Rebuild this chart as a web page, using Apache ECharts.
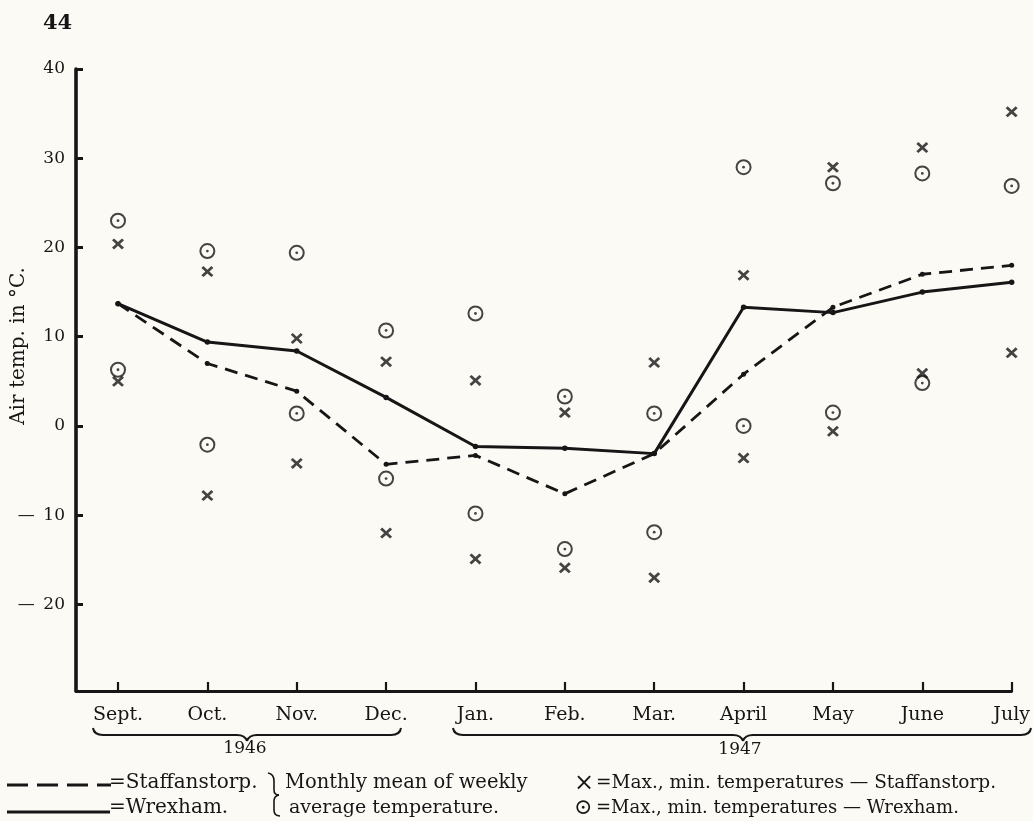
<!DOCTYPE html>
<html>
<head>
<meta charset="utf-8">
<title>Air temperature, Staffanstorp and Wrexham, 1946–1947</title>
<script src="https://cdn.jsdelivr.net/npm/echarts@6/dist/echarts.min.js"></script>
<style>
  html, body { margin: 0; padding: 0; background: #fbfaf5; }
  #chart { width: 1033px; height: 821px; }
</style>
</head>
<body>
<div id="chart"></div>
<script>
// Months along the x axis (Sept. 1946 – July 1947)
const months = ['Sept.', 'Oct.', 'Nov.', 'Dec.', 'Jan.', 'Feb.', 'Mar.', 'April', 'May', 'June', 'July'];

// Monthly mean of weekly average temperature (°C)
const staffanstorpMean = [13.7, 7.0, 3.9, -4.3, -3.3, -7.6, -3.1, 5.8, 13.3, 17.0, 18.0];
const wrexhamMean      = [13.7, 9.4, 8.4, 3.2, -2.3, -2.5, -3.1, 13.3, 12.7, 15.0, 16.1];

// Max. and min. temperatures (°C)
const staffanstorpMax = [20.4, 17.3, 9.8, 7.2, 5.1, 1.5, 7.1, 16.9, 29.0, 31.2, 35.2];
const staffanstorpMin = [5.0, -7.8, -4.2, -12.0, -14.9, -15.9, -17.0, -3.6, -0.6, 5.9, 8.2];
const wrexhamMax      = [23.0, 19.6, 19.4, 10.7, 12.6, 3.3, 1.4, 29.0, 27.2, 28.3, 26.9];
const wrexhamMin      = [6.3, -2.1, 1.4, -5.9, -9.8, -13.8, -11.9, 0.0, 1.5, 4.8, null];

// Y axis tick values
const yTicks = [-20, -10, 0, 10, 20, 30, 40];
const monthIdx = months.map((m, i) => i);

const INK = '#161616';
const SERIF = '"DejaVu Serif", "Liberation Serif", serif';

const pts = arr => arr.map((v, i) => (v === null ? null : [i, v])).filter(p => p);

// "×" mark as a filled outline
const CROSS = 'path://M0,1.7 L1.7,0 L5,3.3 L8.3,0 L10,1.7 L6.7,5 L10,8.3 L8.3,10 L5,6.7 L1.7,10 L0,8.3 L3.3,5 Z';

const chart = echarts.init(document.getElementById('chart'), null, { renderer: 'canvas' });

const crossSeries = (name, data) => ({
  name, type: 'scatter', data: pts(data), symbol: CROSS, symbolSize: [12, 11],
  itemStyle: { color: INK }, z: 4
});
const ringSeries = (name, data) => ({
  name, type: 'scatter', data: pts(data), symbol: 'circle', symbolSize: 14,
  itemStyle: { color: 'rgba(0,0,0,0)', borderColor: INK, borderWidth: 2 }, z: 4
});
const dotSeries = (name, data) => ({
  name, type: 'scatter', data: pts(data), symbol: 'circle', symbolSize: 2.8,
  itemStyle: { color: INK }, z: 5
});

// stroke helpers for the drawn braces
const strokeStyle = w => ({ stroke: INK, lineWidth: w, fill: null });
const seg = (x1, y1, x2, y2, w) => ({ type: 'line', shape: { x1, y1, x2, y2 }, style: strokeStyle(w) });
const curve = (x1, y1, cx, cy, x2, y2, w) => ({
  type: 'bezierCurve', shape: { x1, y1, cpx1: cx, cpy1: cy, x2, y2 }, style: strokeStyle(w)
});
// horizontal brace opening upward, with its point at xm
function hBrace(xa, xb, xm, y) {
  const h = 7, r = 10, w = 2;
  return [
    curve(xa, y - h, xa + 1, y, xa + r, y, w),
    seg(xa + r, y, xm - 10, y, w),
    curve(xm - 10, y, xm - 2, y, xm, y + 6, w),
    curve(xm, y + 6, xm + 2, y, xm + 10, y, w),
    seg(xm + 10, y, xb - r, y, w),
    curve(xb - r, y, xb - 1, y, xb, y - h, w)
  ];
}

const txt = (x, y, text, size, extra) => ({
  type: 'text', x, y,
  style: Object.assign({ text, font: size + 'px ' + SERIF, fill: INK, verticalAlign: 'middle' }, extra || {})
});

chart.setOption({
  backgroundColor: '#fbfaf5',
  animation: false,
  textStyle: { fontFamily: SERIF, color: INK },
  grid: { left: 76, right: 18, top: 69, bottom: 130, containLabel: false },
  xAxis: {
    type: 'value',
    min: -0.47,
    max: 10,
    splitLine: { show: false },
    axisLine: { show: true, onZero: false, lineStyle: { color: INK, width: 2.8 } },
    axisTick: { show: true, inside: true, length: 9, customValues: monthIdx, lineStyle: { color: INK, width: 2.2 } },
    axisLabel: {
      show: true, customValues: monthIdx, margin: 15,
      formatter: v => months[Math.round(v)] || '',
      fontFamily: SERIF, fontSize: 19, color: INK
    }
  },
  yAxis: {
    type: 'value',
    min: -29.7,
    max: 40,
    splitLine: { show: false },
    axisLine: { show: true, onZero: false, lineStyle: { color: INK, width: 3.6 } },
    axisTick: { show: true, inside: true, length: 7, customValues: yTicks, lineStyle: { color: INK, width: 3 } },
    axisLabel: {
      show: true, customValues: yTicks, margin: 11,
      formatter: v => (v < 0 ? '—\u2002' + (-v) : String(v)),
      fontFamily: SERIF, fontSize: 17, color: INK
    }
  },
  series: [
    {
      name: 'Staffanstorp mean', type: 'line', data: pts(staffanstorpMean),
      symbol: 'circle', symbolSize: 5, itemStyle: { color: INK },
      lineStyle: { color: INK, width: 2.8, type: [13, 8] }, z: 3
    },
    {
      name: 'Wrexham mean', type: 'line', data: pts(wrexhamMean),
      symbol: 'circle', symbolSize: 5.5, itemStyle: { color: INK },
      lineStyle: { color: INK, width: 3 }, z: 3
    },
    crossSeries('Staffanstorp max', staffanstorpMax),
    crossSeries('Staffanstorp min', staffanstorpMin),
    ringSeries('Wrexham max', wrexhamMax),
    ringSeries('Wrexham min', wrexhamMin),
    dotSeries('Wrexham max centre', wrexhamMax),
    dotSeries('Wrexham min centre', wrexhamMin)
  ],
  graphic: [
    // page number
    { type: 'text', x: 43, y: 24, style: { text: '44', font: 'bold 21px ' + SERIF, fill: INK, verticalAlign: 'middle' } },
    // y axis title
    {
      type: 'text', x: 19, y: 346, rotation: Math.PI / 2,
      style: { text: 'Air temp. in °C.', font: '20px ' + SERIF, fill: INK, align: 'center', verticalAlign: 'middle' }
    },
    // year braces under the month labels
    ...hBrace(93, 401, 247, 735),
    ...hBrace(453, 1031, 743, 735),
    txt(245, 749, '1946', 17, { align: 'center' }),
    txt(740, 750, '1947', 17, { align: 'center' }),
    // key: line styles
    { type: 'line', shape: { x1: 7, y1: 785, x2: 111, y2: 785 }, style: { stroke: INK, lineWidth: 2.8, lineDash: [21, 9] } },
    { type: 'line', shape: { x1: 7, y1: 812, x2: 110, y2: 812 }, style: { stroke: INK, lineWidth: 2.8 } },
    txt(109, 783, '=Staffanstorp.', 20),
    txt(109, 808, '=Wrexham.', 20),
    // key: bracket joining the two line entries
    curve(268, 773, 274, 774, 274, 781, 1.6),
    seg(274, 781, 274, 790, 1.6),
    curve(274, 790, 274, 795, 279, 795, 1.6),
    curve(279, 795, 274, 796, 274, 801, 1.6),
    seg(274, 801, 274, 810, 1.6),
    curve(274, 810, 274, 816, 280, 816, 1.6),
    txt(285, 783, 'Monthly mean of weekly', 19.5),
    txt(289, 808, 'average temperature.', 19),
    // key: marker symbols
    txt(574, 784, '×', 24),
    txt(574, 808, '⊙', 22),
    txt(596, 783, '=Max., min. temperatures — Staffanstorp.', 18.5),
    txt(596, 808, '=Max., min. temperatures — Wrexham.', 18)
  ]
});
</script>
</body>
</html>
